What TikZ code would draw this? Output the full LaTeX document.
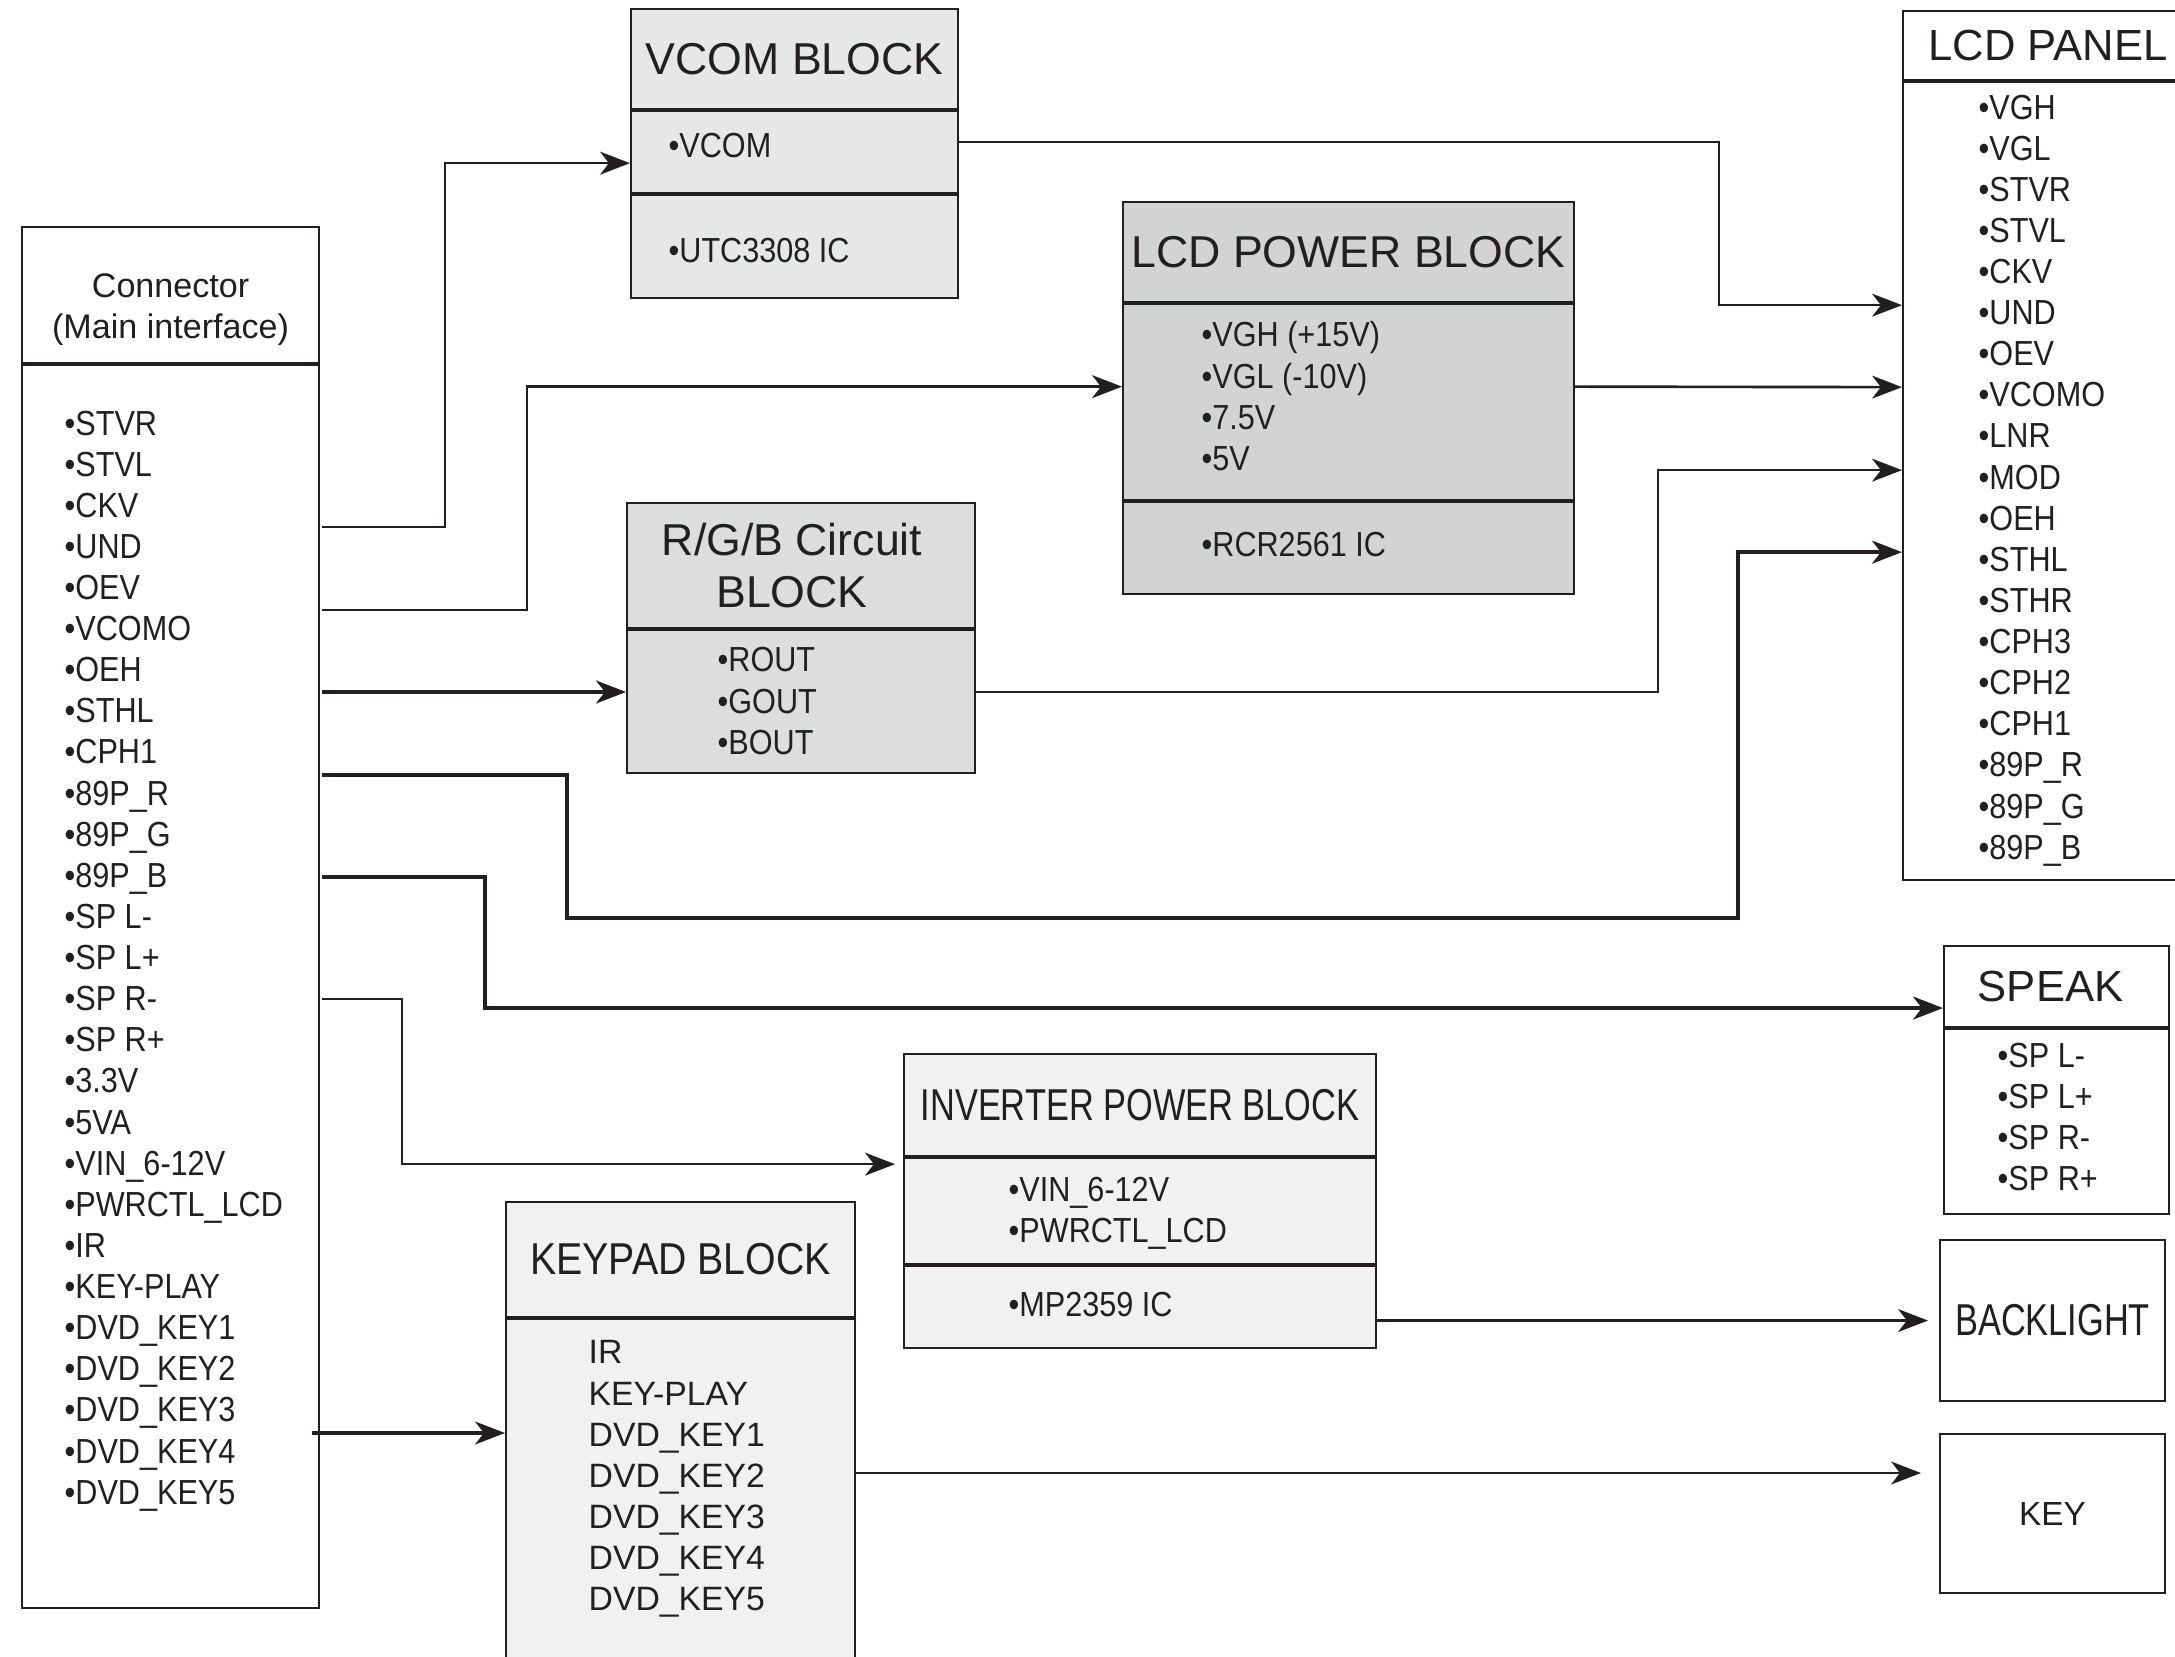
\documentclass[tikz,border=0pt]{standalone}
\usepackage{fontspec}
\setmainfont{Liberation Sans}
\newfontfamily\narrowfont[FakeStretch=0.88]{Liberation Sans}
\newfontfamily\condfont[FakeStretch=0.77]{Liberation Sans}
\usetikzlibrary{positioning, arrows.meta, calc}

\definecolor{ink}{HTML}{231F20}
\definecolor{vcomgray}{HTML}{E6E7E8}
\definecolor{powgray}{HTML}{D1D3D4}
\definecolor{rgbgray}{HTML}{DCDDDE}
\definecolor{invgray}{HTML}{F1F1F2}

\begin{document}
\begin{tikzpicture}[>={Stealth[length=8.5pt,width=6.5pt,inset=2.5pt]}, text=ink,
  font=\fontsize{12.7}{15}\selectfont,
  blk/.style={draw=ink, line width=0.6pt, anchor=north west, inner sep=0pt},
  lst/.style={anchor=north west, inner sep=0pt, align=left, font=\narrowfont\fontsize{9.9}{11.7}\selectfont},
  sig/.style={draw=ink, line width=0.75pt, ->},
  bus/.style={sig, line width=1.2pt}]
\useasboundingbox (0,0) rectangle (21.75,-16.57);
\fill[white] (0,0) rectangle (21.75,-16.57);

% connector
\node[blk, minimum width=2.97cm, minimum height=1.36cm, align=center, font=\fontsize{9.7}{11.8}\selectfont] (conhead) at (0.21,-2.26) {\rule{0pt}{15pt}Connector\\(Main interface)};
\node[blk, minimum width=2.97cm, minimum height=12.43cm] (conbody) at (conhead.south west) {};
\node[lst] (conlist) at (0.64,-4.10) {•STVR\\•STVL\\•CKV\\•UND\\•OEV\\•VCOMO\\•OEH\\•STHL\\•CPH1\\•89P\_R\\•89P\_G\\•89P\_B\\•SP L-\\•SP L+\\•SP R-\\•SP R+\\•3.3V\\•5VA\\•VIN\_6-12V\\•PWRCTL\_LCD\\•IR\\•KEY-PLAY\\•DVD\_KEY1\\•DVD\_KEY2\\•DVD\_KEY3\\•DVD\_KEY4\\•DVD\_KEY5};

% vcom
\node[blk, fill=vcomgray, minimum width=3.27cm, minimum height=1.00cm] (vcomhead) at (6.30,-0.08) {VCOM BLOCK};
\node[blk, fill=vcomgray, minimum width=3.27cm, minimum height=0.82cm] (vcomsig) at (vcomhead.south west) {};
\node[blk, fill=vcomgray, minimum width=3.27cm, minimum height=1.03cm] (vcomic) at (vcomsig.south west) {};
\node[lst, anchor=west] (vcomtxt) at (6.68,-1.46) {•VCOM};
\node[lst, anchor=west] (utctxt) at (6.68,-2.51) {•UTC3308 IC};

% lcd power
\node[blk, fill=powgray, minimum width=4.51cm, minimum height=1.00cm] (powhead) at (11.22,-2.01) {LCD POWER BLOCK};
\node[blk, fill=powgray, minimum width=4.51cm, minimum height=1.96cm] (powsig) at (powhead.south west) {};
\node[blk, fill=powgray, minimum width=4.51cm, minimum height=0.92cm] (powic) at (powsig.south west) {};
\node[lst] (powlist) at (12.01,-3.21) {•VGH (+15V)\\•VGL (-10V)\\•7.5V\\•5V};
\node[lst, anchor=west] (rcrtxt) at (12.01,-5.45) {•RCR2561 IC};

% rgb
\node[blk, fill=rgbgray, minimum width=3.48cm, minimum height=1.25cm, align=center] (rgbhead) at (6.26,-5.02) {R/G/B Circuit\hspace*{0.18cm}\\BLOCK\hspace*{0.18cm}};
\node[blk, fill=rgbgray, minimum width=3.48cm, minimum height=1.43cm] (rgbbody) at (rgbhead.south west) {};
\node[lst] (rgblist) at (7.17,-6.47) {•ROUT\\•GOUT\\•BOUT};

% lcd panel
\node[blk, minimum width=2.90cm, minimum height=0.69cm, font=\fontsize{12.4}{15}\selectfont] (panelhead) at (19.02,-0.10) {LCD PANEL};
\node[blk, minimum width=2.90cm, minimum height=7.98cm] (panelbody) at (panelhead.south west) {};
\node[lst] (panellist) at (19.78,-0.94) {•VGH\\•VGL\\•STVR\\•STVL\\•CKV\\•UND\\•OEV\\•VCOMO\\•LNR\\•MOD\\•OEH\\•STHL\\•STHR\\•CPH3\\•CPH2\\•CPH1\\•89P\_R\\•89P\_G\\•89P\_B};

% speak
\node[blk, minimum width=2.25cm, minimum height=0.81cm, font=\fontsize{12.4}{15}\selectfont] (spkhead) at (19.43,-9.45) {SPEAK\hspace*{0.12cm}};
\node[blk, minimum width=2.25cm, minimum height=1.85cm] (spkbody) at (spkhead.south west) {};
\node[lst] (spklist) at (19.97,-10.42) {•SP L-\\•SP L+\\•SP R-\\•SP R+};

% inverter
\node[blk, fill=invgray, minimum width=4.72cm, minimum height=1.02cm, font=\condfont\fontsize{12.7}{15}\selectfont] (invhead) at (9.03,-10.53) {INVERTER POWER BLOCK};
\node[blk, fill=invgray, minimum width=4.72cm, minimum height=1.06cm] (invsig) at (invhead.south west) {};
\node[blk, fill=invgray, minimum width=4.72cm, minimum height=0.82cm] (invic) at (invsig.south west) {};
\node[lst] (invlist) at (10.08,-11.76) {•VIN\_6-12V\\•PWRCTL\_LCD};
\node[lst, anchor=west] (mptxt) at (10.08,-13.05) {•MP2359 IC};

% keypad
\node[blk, fill=invgray, minimum width=3.49cm, minimum height=1.15cm, font=\narrowfont\fontsize{12.7}{15}\selectfont] (keyhead) at (5.05,-12.01) {KEYPAD BLOCK};
\node[blk, fill=invgray, minimum width=3.49cm, minimum height=4.00cm] (keybody) at (keyhead.south west) {};
\node[lst, font=\fontsize{9.6}{11.7}\selectfont] (keylist) at (5.88,-13.40) {IR\\KEY-PLAY\\DVD\_KEY1\\DVD\_KEY2\\DVD\_KEY3\\DVD\_KEY4\\DVD\_KEY5};

% backlight, key
\node[blk, minimum width=2.25cm, minimum height=1.61cm, font=\condfont\fontsize{12.7}{15}\selectfont] (backlight) at (19.39,-12.39) {BACKLIGHT};
\node[blk, minimum width=2.25cm, minimum height=1.59cm, font=\fontsize{9.5}{11}\selectfont] (key) at (19.39,-14.33) {KEY};

% pins
\coordinate (pvcom) at (3.22,-5.27);
\coordinate (ppow) at (3.22,-6.10);
\coordinate (prgb) at (3.22,-6.92);
\coordinate (ppanel) at (3.22,-7.75);
\coordinate (pspk) at (3.22,-8.77);
\coordinate (pinv) at (3.22,-9.99);
\coordinate (pkey) at (3.12,-14.33);
\coordinate (kout) at (8.54,-14.73);

% connectors
\draw[sig] (pvcom) -- ++(1.23,0) |- ([yshift=-0.11cm]vcomsig.west);
\draw[sig] (ppow) -- ++(2.05,0) |- ([yshift=0.155cm]powsig.west);
\draw[bus] (prgb) -- (prgb -| rgbbody.west);
\draw[bus] (ppanel) -- ++(2.45,0) |- (17.38,-9.18) |- ([yshift=-0.71cm]panelbody.west);
\draw[bus] (pspk) -- ++(1.63,0) |- ([yshift=-0.215cm]spkhead.west);
\draw[sig, shorten >=0.08cm] (pinv) -- ++(0.80,0) |- ([yshift=0.47cm]invsig.west);
\draw[bus, line width=1pt] (pkey) -- (pkey -| keybody.west);
\draw[sig] ([yshift=0.10cm]vcomsig.east) -- ++(7.60,0) |- ([yshift=1.76cm]panelbody.west);
\draw[sig] ([yshift=0.155cm]powsig.east) -- ([yshift=0.94cm]panelbody.west);
\draw[sig] (prgb -| rgbbody.east) -- ++(6.82,0) |- ([yshift=0.11cm]panelbody.west);
\draw[sig, shorten >=0.11cm] (backlight.west -| invic.east) -- (backlight.west);
\draw[sig, shorten >=0.18cm] (kout) -- (kout -| key.west);
\end{tikzpicture}
\end{document}
